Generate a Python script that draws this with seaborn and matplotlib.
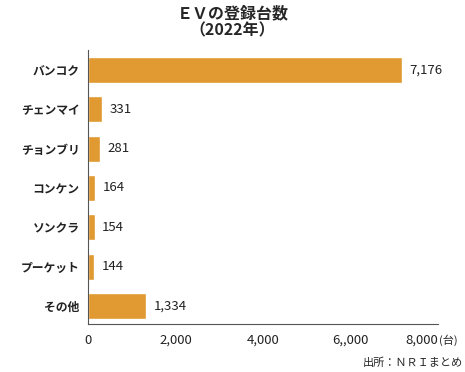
import seaborn as sns
import pandas as pd
import matplotlib.pyplot as plt

# data
cities = ["バンコク", "チェンマイ", "チョンブリ", "コンケン", "ソンクラ", "プーケット", "その他"]
counts = [7176, 331, 281, 164, 154, 144, 1334]
xticks = [0, 2000, 4000, 6000, 8000]
xtick_labels = ["0", "2,000", "4,000", "6,,000", "8,000"]

df = pd.DataFrame({"city": cities, "count": counts})

sns.set_style("white")
plt.rcParams["font.family"] = ["Noto Sans CJK JP", "DejaVu Sans"]

fig = plt.figure(figsize=(4.65, 3.72), dpi=100)
ax = fig.add_axes([0.189, 0.129, 0.753, 0.737])

sns.barplot(data=df, x="count", y="city", color="#e09a31", width=0.66,
            saturation=1, ax=ax)

for i, v in enumerate(counts):
    ax.text(v + 170, i, f"{v:,}", va="center", ha="left", fontsize=9.5, color="#222222")

ax.set_xlim(0, 8000)
ax.set_ylim(6.46, -0.51)
ax.set_xticks(xticks)
ax.set_xticklabels(xtick_labels, fontsize=9.5, color="#222222")
ax.get_xticklabels()[-1].set_ha("right")
ax.tick_params(axis="x", direction="out", length=4, width=0.8, color="#555555", pad=3)
ax.tick_params(axis="y", length=0, labelsize=8.5, labelcolor="#222222", pad=6)
for lbl in ax.get_yticklabels():
    lbl.set_fontweight("bold")
ax.set_xlabel("")
ax.set_ylabel("")
for s in ["top", "right"]:
    ax.spines[s].set_visible(False)
for s in ["left", "bottom"]:
    ax.spines[s].set_color("#555555")
    ax.spines[s].set_linewidth(0.8)

fig.text(0.5, 0.985, "ＥＶの登録台数\n（2022年）", ha="center", va="top",
         fontsize=11.5, fontweight="bold", linespacing=1.05)
fig.text(0.945, 0.086, "(台)", ha="left", va="center", fontsize=8)
fig.text(0.995, 0.025, "出所：ＮＲＩまとめ", ha="right", va="center", fontsize=8)

fig.savefig("out.png", dpi=100)
